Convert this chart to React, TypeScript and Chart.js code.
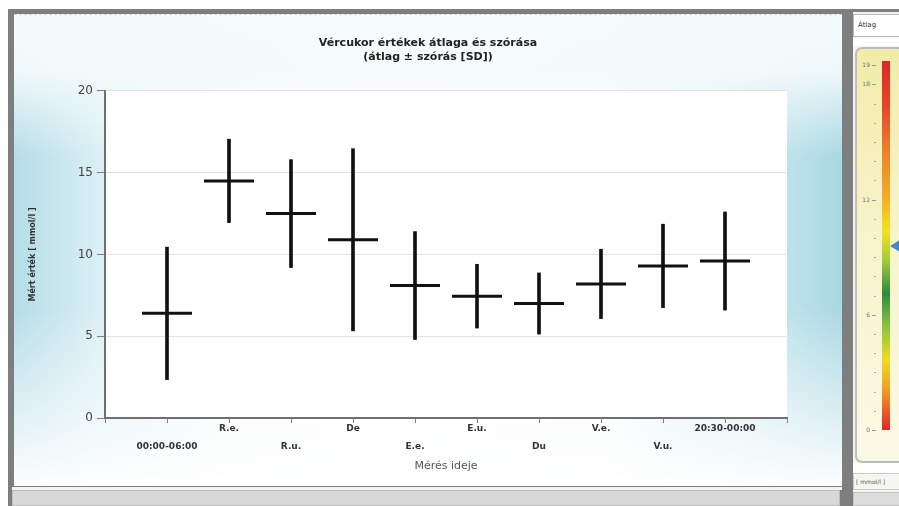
import React, { useEffect, useRef } from 'react';
import { Chart, registerables } from 'chart.js';

Chart.register(...registerables);

const categories = ['00:00-06:00', 'R.e.', 'R.u.', 'De', 'E.e.', 'E.u.', 'Du', 'V.e.', 'V.u.', '20:30-00:00'];
const means = [6.4, 14.5, 12.5, 10.9, 8.1, 7.45, 7.0, 8.2, 9.3, 9.6];
const sds = [4.05, 2.55, 3.3, 5.57, 3.3, 1.95, 1.87, 2.12, 2.55, 3.0];
const titleLines = ['Vércukor értékek átlaga és szórása', '(átlag ± szórás [SD])'];
const yTitle = 'Mért érték [ mmol/l ]';
const xTitle = 'Mérés ideje';
const gaugeLabels = [0, 6, 12, 18, 19];
const gaugeMinor = [1, 2, 3, 4, 5, 7, 8, 9, 10, 11, 13, 14, 15, 16, 17];
const gaugeMarker = 9.6;

const FONT = '"DejaVu Sans", Verdana, sans-serif';

function gaugeY(v: number) {
  return 430 - v * 19.2;
}

const whiteArea = {
  id: 'whiteArea',
  beforeDraw(chart: any) {
    const { ctx, chartArea } = chart;
    if (!chartArea) return;
    ctx.save();
    ctx.fillStyle = '#ffffff';
    ctx.fillRect(chartArea.left, chartArea.top, chartArea.right - chartArea.left, chartArea.bottom - chartArea.top);
    ctx.restore();
  },
};

function ChartPanel() {
  const ref = useRef<HTMLCanvasElement | null>(null);
  useEffect(() => {
    if (!ref.current) return;
    const barData = categories.map((_, i) => ({ x: i + 1, y: [means[i] - sds[i], means[i] + sds[i]] }));
    const meanData = categories.map((_, i) => ({ x: i + 1, y: means[i] }));
    const chart = new Chart(ref.current, {
      type: 'bar',
      data: {
        datasets: [
          {
            type: 'bar',
            data: barData as any,
            backgroundColor: '#111',
            borderWidth: 0,
            barThickness: 3,
            yAxisID: 'y',
          },
          {
            type: 'line',
            data: meanData as any,
            showLine: false,
            pointStyle: 'line',
            pointRadius: 25,
            pointHoverRadius: 25,
            pointBorderWidth: 3,
            pointBorderColor: '#111',
            borderColor: '#111',
            clip: false as any,
            yAxisID: 'y',
          },
        ],
      },
      options: {
        responsive: false,
        animation: false,
        layout: { padding: 0 },
        plugins: {
          legend: { display: false },
          tooltip: { enabled: false },
          title: {
            display: true,
            text: titleLines,
            color: '#222',
            font: { family: FONT, size: 11, weight: 'bold', lineHeight: 1.27 },
            padding: { top: 21, bottom: 27 },
          },
        },
        scales: {
          x: {
            type: 'linear',
            min: 0,
            max: 11,
            offset: false,
            afterFit: (s: any) => { s.height = 69; },
            border: { display: true, color: '#707070', width: 2 },
            grid: { offset: false, drawOnChartArea: false, drawTicks: true, tickLength: 5, tickColor: '#808080' },
            ticks: {
              stepSize: 1,
              autoSkip: false,
              maxRotation: 0,
              minRotation: 0,
              padding: -3,
              color: '#333',
              font: { family: FONT, size: 9, weight: 'bold', lineHeight: 2 },
              callback: (value: any) => {
                const i = Math.round(Number(value)) - 1;
                if (i < 0 || i >= categories.length) return '';
                return i % 2 === 0 ? ['', categories[i]] : [categories[i]];
              },
            },
            title: {
              display: true,
              text: xTitle,
              color: '#555',
              font: { family: FONT, size: 11 },
              padding: { top: 0, bottom: 14 },
            },
          },
          y: {
            type: 'linear',
            position: 'left',
            min: 0,
            max: 20,
            afterFit: (s: any) => { s.width = 91; },
            border: { display: true, color: '#707070', width: 2 },
            grid: { color: '#e6e1da', lineWidth: 1, drawTicks: true, tickLength: 8, tickColor: '#808080' },
            ticks: {
              stepSize: 5,
              padding: 4,
              color: '#444',
              font: { family: FONT, size: 12 },
            },
            title: {
              display: true,
              text: yTitle,
              color: '#333',
              font: { family: FONT, size: 8, weight: 'bold' },
              padding: { top: 14, bottom: 0 },
            },
          },
          yr: {
            type: 'linear',
            position: 'right',
            display: true,
            min: 0,
            max: 20,
            afterFit: (s: any) => { s.width = 55; },
            border: { display: false },
            grid: { display: false, drawOnChartArea: false },
            ticks: { display: false },
          },
        },
      } as any,
      plugins: [whiteArea],
    });
    return () => chart.destroy();
  }, []);
  return <canvas ref={ref} width={828} height={472} style={{ position: 'absolute', left: 0, top: 0 }} />;
}

export default function App() {
  return (
    <div style={{ position: 'fixed', left: 0, top: 0, width: 899, height: 506, background: '#ffffff', overflow: 'hidden', fontFamily: FONT }}>
      <div style={{ position: 'absolute', left: 8, top: 9, width: 891, height: 497, background: '#7e7e7e' }} />
      <div
        style={{
          position: 'absolute', left: 14, top: 14, width: 828, height: 472,
          background:
            'linear-gradient(to bottom, rgba(246,251,252,0.97) 0%, rgba(246,251,252,0.9) 12%, rgba(255,255,255,0) 30%, rgba(255,255,255,0) 62%, rgba(255,255,255,0.96) 100%), linear-gradient(to right, #b4dde7 0%, #d9eff4 10%, #f4fafb 25%, #ffffff 45%, #f6fbfc 72%, #cfeaf0 88%, #a9d8e3 100%)',
          borderTop: '1px dashed #cfd8dc',
          boxSizing: 'border-box',
        }}
      >
        <ChartPanel />
      </div>
      <div style={{ position: 'absolute', left: 12, top: 487, width: 830, height: 3, background: '#f2f2f2' }} />
      <div style={{ position: 'absolute', left: 12, top: 490, width: 828, height: 16, background: '#d8d8d8', border: '1px solid #bdbdbd', boxSizing: 'border-box' }} />
      <div style={{ position: 'absolute', left: 853, top: 12, width: 46, height: 494, background: '#f4f4f4' }} />
      <div style={{ position: 'absolute', left: 853, top: 14, width: 50, height: 23, background: '#ffffff', border: '1px solid #b8b8b8', boxSizing: 'border-box', fontSize: 7, color: '#333', paddingLeft: 4, paddingTop: 6 }}>Átlag</div>
      <div style={{ position: 'absolute', left: 853, top: 38, width: 50, height: 8, background: '#ffffff' }} />
      <div
        style={{
          position: 'absolute', left: 855, top: 47, width: 60, height: 416,
          background: 'linear-gradient(to bottom, #f2eca9 0%, #f7f3c8 40%, #fbf9e6 100%)',
          border: '2px solid #bcbcbc', borderRadius: 7, boxSizing: 'border-box',
        }}
      />
      <div
        style={{
          position: 'absolute', left: 882, top: gaugeY(19.2), width: 8, height: gaugeY(0) - gaugeY(19.2),
          background:
            'linear-gradient(to bottom, #e0262a 0%, #e6442a 12%, #ee8328 25%, #f3ad28 37%, #f2e31f 46%, #a3cb3c 54%, #2b8c3e 63%, #8cc340 72%, #efdd20 81%, #f09e24 89%, #e2262a 100%)',
        }}
      />
      {gaugeLabels.map((v) => (
        <div key={'gl' + v} style={{ position: 'absolute', left: 858, top: gaugeY(v) - 4, width: 12, textAlign: 'right', fontSize: 6, lineHeight: '8px', color: '#777' }}>{v}</div>
      ))}
      {gaugeLabels.map((v) => (
        <div key={'gt' + v} style={{ position: 'absolute', left: 872, top: gaugeY(v), width: 4, height: 1, background: '#999' }} />
      ))}
      {gaugeMinor.map((v) => (
        <div key={'gm' + v} style={{ position: 'absolute', left: 874, top: gaugeY(v), width: 2, height: 1, background: '#aaa' }} />
      ))}
      <div
        style={{
          position: 'absolute', left: 890, top: gaugeY(gaugeMarker) - 6, width: 0, height: 0,
          borderTop: '6px solid transparent', borderBottom: '6px solid transparent', borderRight: '10px solid #4f86c6',
        }}
      />
      <div style={{ position: 'absolute', left: 853, top: 463, width: 50, height: 10, background: '#ffffff' }} />
      <div style={{ position: 'absolute', left: 853, top: 473, width: 50, height: 17, background: '#f6f6f0', border: '1px solid #c8c8c8', boxSizing: 'border-box', fontSize: 6, color: '#555', paddingLeft: 2, paddingTop: 4 }}>[ mmol/l ]</div>
      <div style={{ position: 'absolute', left: 853, top: 492, width: 50, height: 14, background: '#dcdcdc', border: '1px solid #c0c0c0', boxSizing: 'border-box' }} />
    </div>
  );
}
